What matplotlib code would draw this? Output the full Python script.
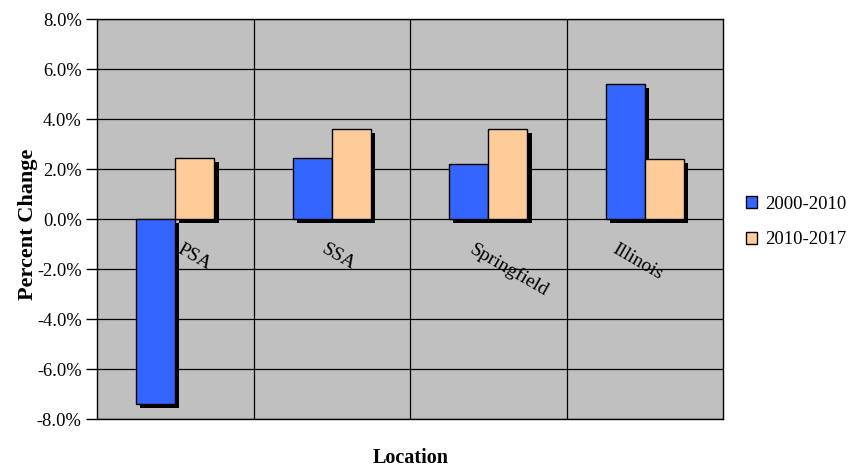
import matplotlib
matplotlib.use("Agg")
import matplotlib.pyplot as plt
import matplotlib.patheffects as pe
import matplotlib.transforms as mtransforms
from matplotlib.patches import Patch
import numpy as np

categories = ["PSA", "SSA", "Springfield", "Illinois"]
series_names = ["2000-2010", "2010-2017"]
vals_2000_2010 = [-7.4, 2.45, 2.2, 5.4]
vals_2010_2017 = [2.45, 3.6, 3.6, 2.4]
yticks = [-8, -6, -4, -2, 0, 2, 4, 6, 8]
ytick_labels = ["-8.0%", "-6.0%", "-4.0%", "-2.0%", "0.0%", "2.0%", "4.0%", "6.0%", "8.0%"]

colors = ["#3366FF", "#FFCC99"]
label_dx = [0.05, -0.03, -0.08, -0.17]

plt.rcParams['font.family'] = ['Liberation Serif', 'DejaVu Serif']

fig = plt.figure(figsize=(8.51, 4.67), dpi=100)
ax = fig.add_axes([97/851, 1-419/467, (723-97)/851, 400/467])
ax.set_facecolor("#C0C0C0")

x = np.arange(len(categories))
w = 0.25
shadow = [pe.SimplePatchShadow(offset=(3, -3), shadow_rgbFace='black', alpha=1.0), pe.Normal()]
for i, (vals, c) in enumerate(zip([vals_2000_2010, vals_2010_2017], colors)):
    bars = ax.bar(x - w/2 + i*w, vals, width=w, color=c, edgecolor='black', linewidth=1.0, zorder=3)
    for b in bars:
        b.set_path_effects(shadow)

ax.set_xlim(-0.5, len(categories) - 0.5)
ax.set_ylim(-8, 8)
ax.set_yticks(yticks)
ax.set_yticklabels(ytick_labels, fontsize=13.3)
ax.tick_params(axis='y', direction='out', length=8, width=1, pad=3, color='black')
ax.set_xticks([])
for yv in yticks:
    ax.axhline(yv, color='black', lw=0.9, zorder=1)
for xv in np.arange(0.5, len(categories) - 0.5, 1):
    ax.axvline(xv, color='black', lw=0.9, zorder=1)
for s in ax.spines.values():
    s.set_color('black')
    s.set_linewidth(1.0)

for i, (cat, dx) in enumerate(zip(categories, label_dx)):
    trans = mtransforms.offset_copy(ax.transData, fig=fig, x=0, y=-22, units='dots')
    ax.text(i + dx, 0, cat, transform=trans, rotation=-30, rotation_mode='anchor',
            ha='left', va='top', fontsize=14, zorder=4)

fig.text(28/851, 1-224/467, "Percent Change", rotation=90, fontsize=16, fontweight='bold',
         ha='center', va='center')
fig.text(411/851, 1-458/467, "Location", fontsize=14.5, fontweight='bold', ha='center', va='center')

handles = [Patch(facecolor=c, edgecolor='black', linewidth=1.0) for c in colors]
fig.legend(handles, series_names, loc='center left', bbox_to_anchor=(729/851, 1-222/467),
           frameon=False, fontsize=13.5, handlelength=0.6, handleheight=0.6,
           handletextpad=0.45, labelspacing=1.0)

fig.savefig("out.png", dpi=100)
